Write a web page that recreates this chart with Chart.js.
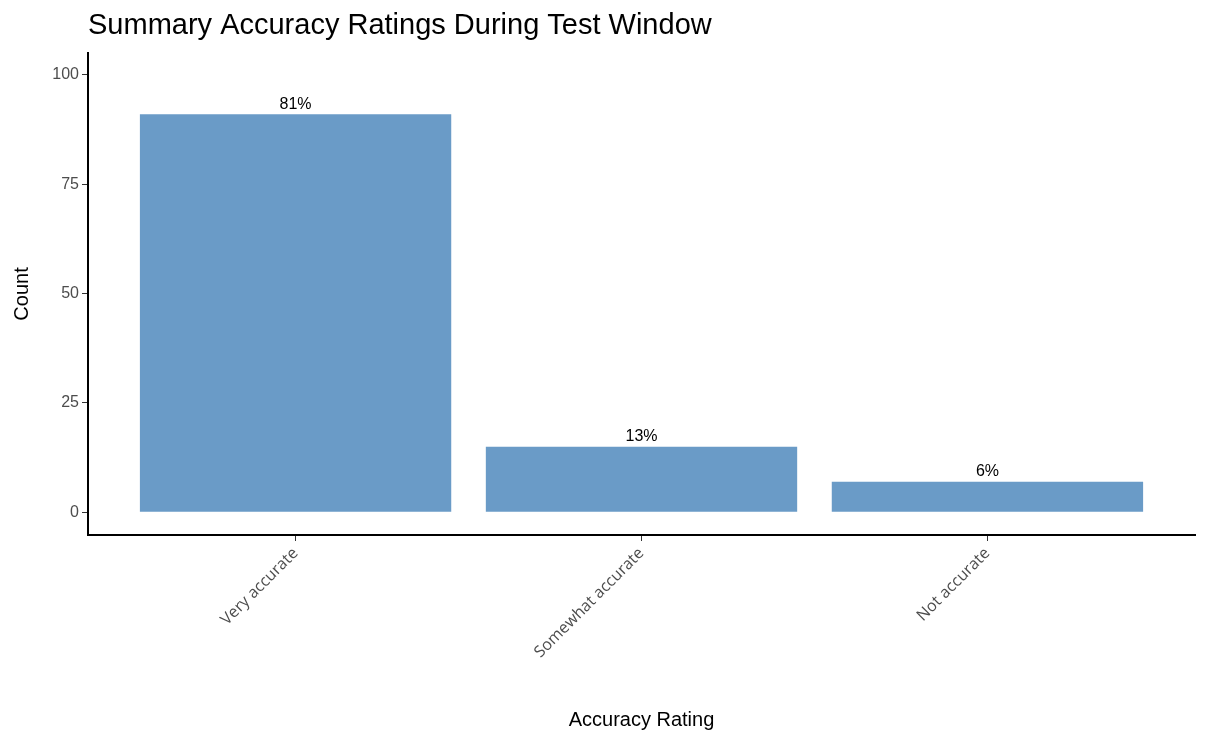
<!DOCTYPE html>
<html>
<head>
<meta charset="utf-8">
<script src="https://cdn.jsdelivr.net/npm/chart.js@4"></script>
<style>
  html, body { margin: 0; padding: 0; background: #fff; }
  #wrap { width: 1208px; height: 746px; }
</style>
</head>
<body>
<div id="wrap"><canvas id="accuracyChart" width="1208" height="746"></canvas></div>
<script>
const categories = ['Very accurate', 'Somewhat accurate', 'Not accurate'];
const counts = [91, 15, 7];
const percentLabels = ['81%', '13%', '6%'];
const yTicks = [0, 25, 50, 75, 100];

// title, bar value labels
const annotate = {
    id: 'annotate',
    afterDatasetsDraw(chart) {
        const ctx = chart.ctx;
        const area = chart.chartArea;
        ctx.save();
        ctx.fillStyle = '#000';
        ctx.font = '29px "Liberation Sans", Arial, sans-serif';
        ctx.textAlign = 'left';
        ctx.textBaseline = 'alphabetic';
        ctx.fillText('Summary Accuracy Ratings During Test Window', area.left, 34);

        ctx.font = '16px "Liberation Sans", Arial, sans-serif';
        ctx.textAlign = 'center';
        ctx.textBaseline = 'bottom';
        chart.getDatasetMeta(0).data.forEach((bar, i) => {
            ctx.fillText(percentLabels[i], bar.x, bar.y - 2);
        });
        ctx.restore();
    }
};

new Chart(document.getElementById('accuracyChart'), {
    type: 'bar',
    data: {
        datasets: [{
            data: counts.map((v, i) => ({ x: i, y: v })),
            backgroundColor: '#6a9bc7',
            borderWidth: 0,
            categoryPercentage: 0.9,
            barPercentage: 1
        }]
    },
    options: {
        responsive: false,
        animation: false,
        layout: { padding: { left: 10, right: 13, top: 53, bottom: 0 } },
        plugins: { legend: { display: false }, tooltip: { enabled: false } },
        scales: {
            x: {
                type: 'linear',
                offset: false,
                min: -0.6,
                max: 2.6,
                grid: { display: true, drawOnChartArea: false, offset: false, tickLength: 6, color: '#333' },
                border: { color: '#000', width: 2 },
                afterBuildTicks(s) { s.ticks = categories.map((c, i) => ({ value: i })); },
                afterFit(s) { s.height = 211; },
                ticks: {
                    minRotation: 45,
                    maxRotation: 45,
                    color: '#4d4d4d',
                    font: { family: '"Open Sans", sans-serif', size: 16 },
                    callback: v => categories[v]
                },
                title: {
                    display: true,
                    text: 'Accuracy Rating',
                    color: '#000',
                    font: { family: '"Liberation Sans", Arial, sans-serif', size: 20 },
                    padding: { top: 0, bottom: 14 }
                }
            },
            y: {
                min: -5.2,
                max: 105,
                grid: { display: true, drawOnChartArea: false, tickLength: 6, color: '#333' },
                border: { color: '#000', width: 2 },
                afterBuildTicks(s) { s.ticks = yTicks.map(v => ({ value: v })); },
                afterFit(s) { s.width = 78; },
                ticks: {
                    color: '#4d4d4d',
                    font: { family: '"Liberation Sans", Arial, sans-serif', size: 16 }
                },
                title: {
                    display: true,
                    text: 'Count',
                    color: '#000',
                    font: { family: '"Liberation Sans", Arial, sans-serif', size: 20 },
                    padding: { top: 0, bottom: 10 }
                }
            }
        }
    },
    plugins: [annotate]
});
</script>
</body>
</html>
